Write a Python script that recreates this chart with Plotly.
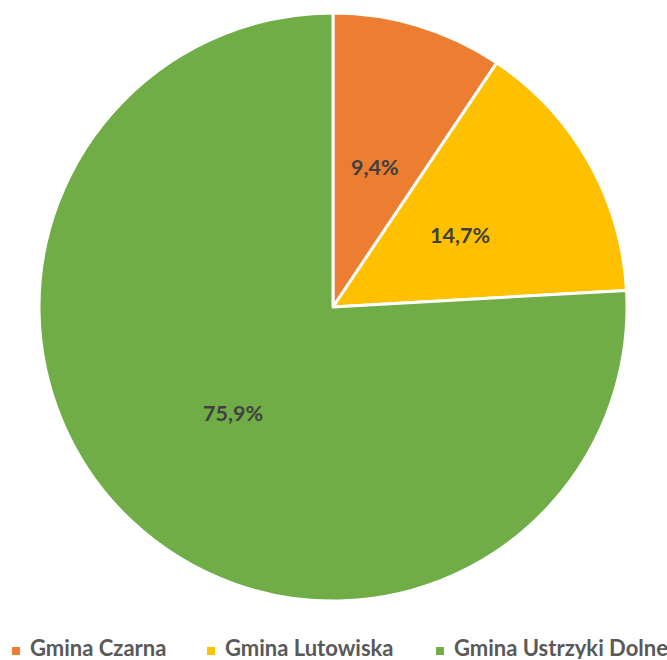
import math
import plotly.graph_objects as go

categories = ["Gmina Czarna", "Gmina Lutowiska", "Gmina Ustrzyki Dolne"]
values = [9.4, 14.7, 75.9]
colors = ["#ED7D31", "#FFC000", "#70AD47"]

W, H = 667, 660
CX, CY, R = 333, 307, 292
PAD = 2  # compensate plotly's inner radius shrink

fig = go.Figure(go.Pie(
    labels=categories,
    values=values,
    sort=False,
    direction="clockwise",
    rotation=0,
    marker=dict(colors=colors, line=dict(color="white", width=3)),
    textinfo="none",
    domain=dict(x=[(CX - R - PAD) / W, (CX + R + PAD) / W],
                y=[(H - (CY + R + PAD)) / H, (H - (CY - R - PAD)) / H]),
    hoverinfo="label+percent",
    showlegend=False,
))

# data labels at half radius along each slice's mid angle (Excel style)
total = sum(values)
cum = 0.0
for v in values:
    mid = (cum + v / 2) / total * 2 * math.pi
    cum += v
    px = CX + 0.5 * R * math.sin(mid)
    py = CY - 0.5 * R * math.cos(mid)
    fig.add_annotation(
        x=px / W, y=1 - py / H, xref="paper", yref="paper",
        text=f"{v:.1f}%".replace(".", ","), showarrow=False,
        xanchor="center", yanchor="middle",
        font=dict(family="Lato", size=21.5, color="#404040", weight="bold"),
    )

# legend (Excel style, bottom)
legend_text_x = [28, 223, 452]
legend_y = 647
for name, col, tx in zip(categories, colors, legend_text_x):
    fig.add_shape(type="rect", xref="paper", yref="paper",
                  x0=(tx - 16) / W, x1=(tx - 8) / W,
                  y0=1 - (legend_y + 8) / H, y1=1 - (legend_y) / H,
                  fillcolor=col, line=dict(width=0))
    fig.add_annotation(
        x=tx / W, y=1 - legend_y / H, xref="paper", yref="paper",
        text=name, showarrow=False, xanchor="left", yanchor="middle",
        height=24,
        font=dict(family="Lato", size=22, color="#595959", weight="bold"),
    )

fig.update_layout(
    width=W, height=H,
    margin=dict(l=0, r=0, t=0, b=0),
    paper_bgcolor="white",
    plot_bgcolor="white",
)

fig.write_html("out.html", config={"displayModeBar": False},
               post_script="document.body.style.margin='0';")
